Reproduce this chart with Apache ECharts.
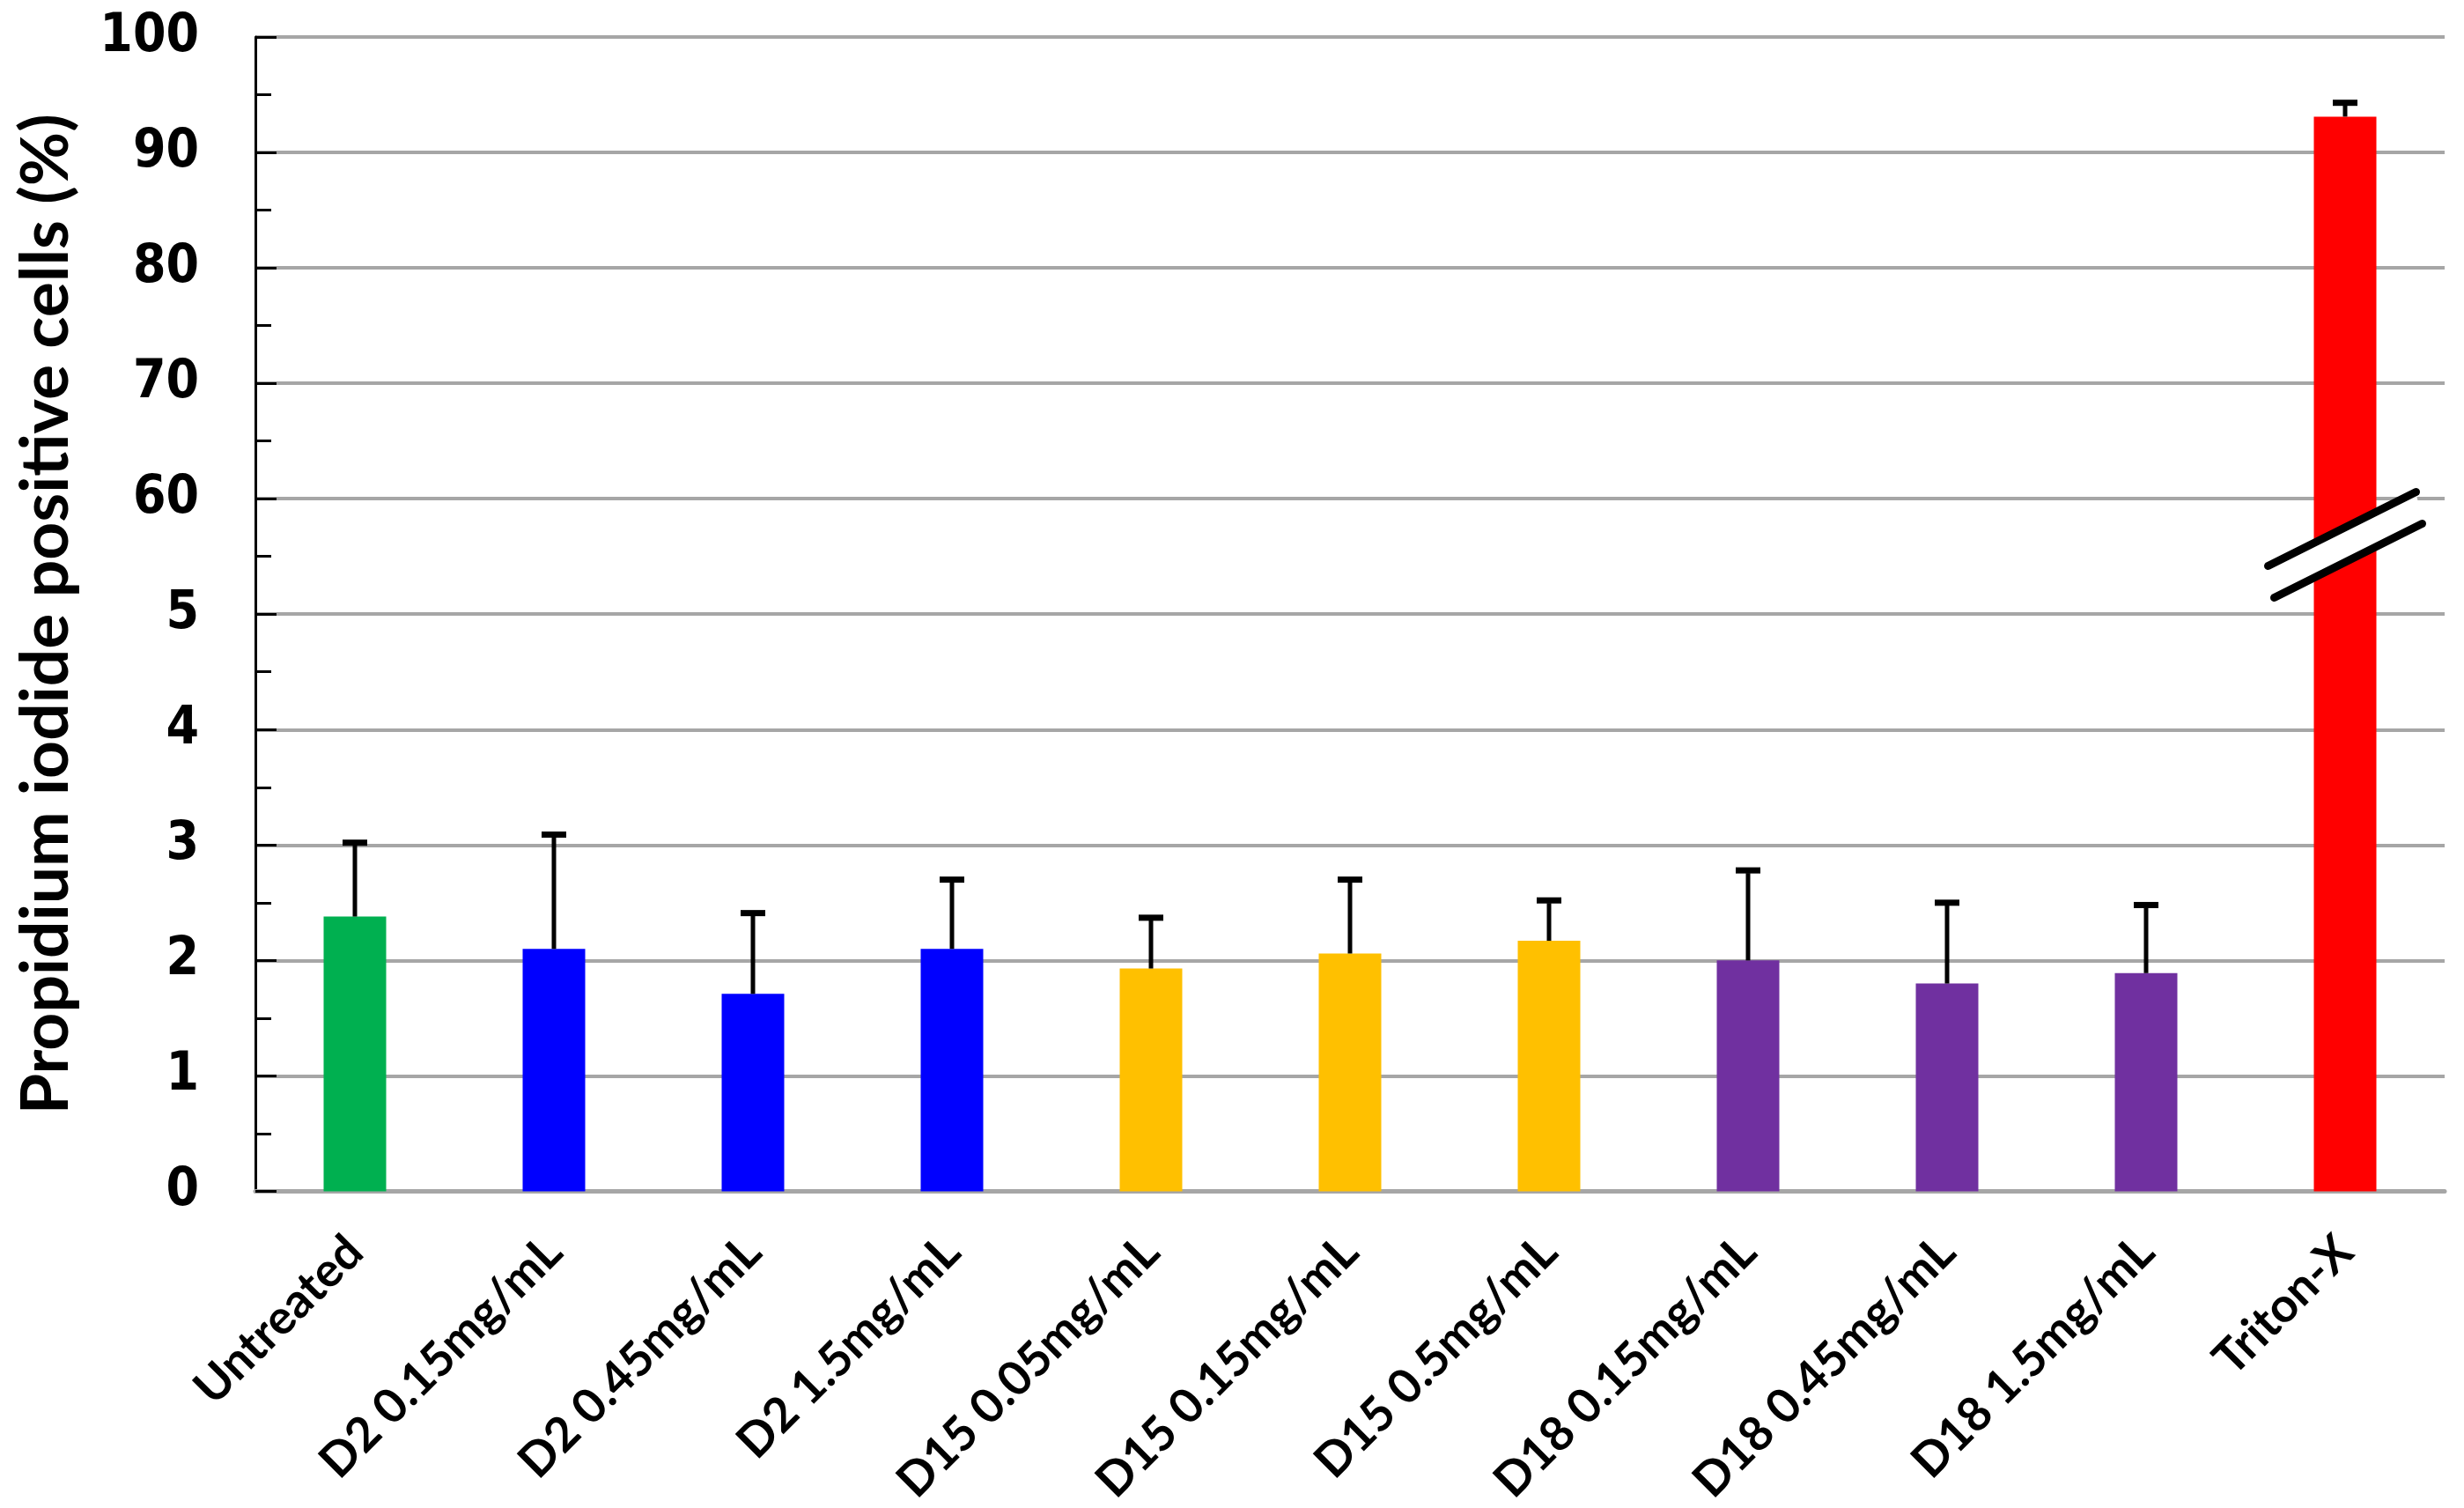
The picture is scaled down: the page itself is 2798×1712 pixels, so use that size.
<!DOCTYPE html>
<html>
<head>
<meta charset="utf-8">
<script src="https://cdn.jsdelivr.net/npm/echarts@6/dist/echarts.min.js"></script>
<style>
html,body{margin:0;padding:0;background:#fff;}
#chart{width:2798px;height:1712px;}
</style>
</head>
<body>
<div id="chart"></div>
<script>
// ---- data ----
const categories = ['Untreated','D2 0.15mg/mL','D2 0.45mg/mL','D2 1.5mg/mL','D15 0.05mg/mL','D15 0.15mg/mL','D15 0.5mg/mL','D18 0.15mg/mL','D18 0.45mg/mL','D18 1.5mg/mL','Triton-X'];
const means = [2.38, 2.10, 1.71, 2.10, 1.93, 2.06, 2.17, 2.00, 1.80, 1.89, 93.1];
const errors = [0.64, 0.99, 0.70, 0.60, 0.44, 0.64, 0.35, 0.78, 0.70, 0.59, 1.2];
const barColors = ['#00B050','#0000FF','#0000FF','#0000FF','#FFC000','#FFC000','#FFC000','#7030A0','#7030A0','#7030A0','#FF0000'];
const yTickLabels = ['0','1','2','3','4','5','60','70','80','90','100'];
const breakValue = 5.6; // axis position of the break marker (between "5" and "60")

// broken axis: 0..5 linear, then 60..100 mapped to positions 6..10
function toAxis(v){ return v <= 5 ? v : 6 + (v - 60) / 10; }

const chart = echarts.init(document.getElementById('chart'));
const barData = means.map((m,i)=>({value: toAxis(m), itemStyle:{color: barColors[i]}}));
const errData = means.map((m,i)=>[i, toAxis(m), toAxis(m + errors[i])]);

chart.setOption({
  backgroundColor:'#fff',
  animation:false,
  grid:{left:290, right:22, top:42, bottom:359},
  xAxis:{
    type:'category',
    data:categories,
    axisLine:{show:true, lineStyle:{color:'#A6A6A6', width:5}},
    axisTick:{show:false},
    axisLabel:{interval:0, rotate:45, margin:60, color:'#000', fontFamily:'Lato', fontWeight:'bold', fontSize:54}
  },
  yAxis:{
    type:'value', min:0, max:10, interval:1,
    name:'Propidium iodide positive cells (%)',
    nameLocation:'middle', nameGap:200,
    nameTextStyle:{color:'#000', fontFamily:'Lato', fontWeight:'bold', fontSize:75},
    axisLine:{show:true, lineStyle:{color:'#000', width:3}},
    axisTick:{show:true, inside:true, length:24, lineStyle:{color:'#000', width:3}},
    minorTick:{show:true, splitNumber:2, length:18, lineStyle:{color:'#000', width:3}},
    splitLine:{show:true, lineStyle:{color:'#A6A6A6', width:4}},
    axisLabel:{margin:64, color:'#000', fontFamily:'DejaVu Sans Condensed, DejaVu Sans', fontWeight:'bold', fontSize:60,
      formatter:(v)=>yTickLabels[Math.round(v)]}
  },
  series:[
    {type:'bar', data:barData, barWidth:71, z:2},
    {type:'custom', z:3, data:errData,
      renderItem:(params, api)=>{
        const x = api.value(0);
        const p1 = api.coord([x, api.value(1)]);
        const p2 = api.coord([x, api.value(2)]);
        return {type:'group', children:[
          {type:'line', shape:{x1:p1[0], y1:p1[1], x2:p2[0], y2:p2[1]+3}, style:{stroke:'#000', lineWidth:5}},
          {type:'line', shape:{x1:p2[0]-14, y1:p2[1], x2:p2[0]+14, y2:p2[1]}, style:{stroke:'#000', lineWidth:7}}
        ]};
      }
    },
    {type:'custom', z:4, data:[[categories.length-1, breakValue]],
      renderItem:(params, api)=>{
        const c = api.coord([api.value(0), api.value(1)]);
        const hx = 84, hy = -42, off = 18, sx = 3.5;
        const a = [c[0]-hx-sx, c[1]-hy-off], b = [c[0]+hx-sx, c[1]+hy-off];
        const d = [c[0]-hx+sx, c[1]-hy+off], e = [c[0]+hx+sx, c[1]+hy+off];
        return {type:'group', children:[
          {type:'polygon', shape:{points:[a,b,e,d]}, style:{fill:'#fff'}},
          {type:'line', shape:{x1:a[0], y1:a[1], x2:b[0], y2:b[1]}, style:{stroke:'#000', lineWidth:9, lineCap:'round'}},
          {type:'line', shape:{x1:d[0], y1:d[1], x2:e[0], y2:e[1]}, style:{stroke:'#000', lineWidth:9, lineCap:'round'}}
        ]};
      }
    }
  ]
});
</script>
</body>
</html>
